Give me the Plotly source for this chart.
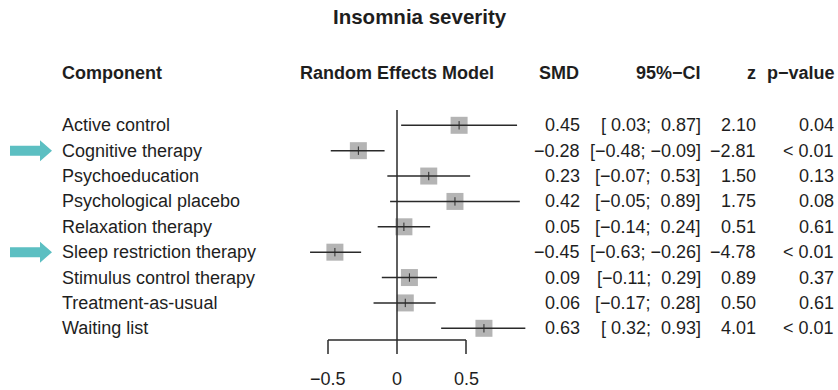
import plotly.graph_objects as go

# ---- data ----
components = ["Active control", "Cognitive therapy", "Psychoeducation",
              "Psychological placebo", "Relaxation therapy", "Sleep restriction therapy",
              "Stimulus control therapy", "Treatment-as-usual", "Waiting list"]
smd = [0.45, -0.28, 0.23, 0.42, 0.05, -0.45, 0.09, 0.06, 0.63]
ci_low = [0.03, -0.48, -0.07, -0.05, -0.14, -0.63, -0.11, -0.17, 0.32]
ci_high = [0.87, -0.09, 0.53, 0.89, 0.24, -0.26, 0.29, 0.28, 0.93]
z_vals = [2.10, -2.81, 1.50, 1.75, 0.51, -4.78, 0.89, 0.50, 4.01]
p_text = ["0.04", "< 0.01", "0.13", "0.08", "0.61", "< 0.01", "0.37", "0.61", "< 0.01"]
highlighted = ["Cognitive therapy", "Sleep restriction therapy"]
tick_vals = [-0.5, 0, 0.5]
tick_text = ["\u22120.5", "0", "0.5"]
title = "Insomnia severity"
headers = ["Component", "Random Effects Model", "SMD", "95%\u2212CI", "z", "p\u2212value"]

# ---- geometry ----
W, H = 838, 390
X0PIX, XSCALE = 397.0, 138.0          # pixel of 0 and pixels per unit
Y0PIX, YSTEP = 125.3, 25.375          # pixel of first row and row spacing
xr = [-X0PIX / XSCALE, (W - X0PIX) / XSCALE]
yr = [(H - Y0PIX) / YSTEP, -Y0PIX / YSTEP]

def ypix(p):
    return (p - Y0PIX) / YSTEP

def px(p):
    return p / W

NB = "\u00a0"

def fmt(v):
    s = f"{v:.2f}"
    return s.replace("-", "\u2212")

def pad(v):
    return fmt(v) if v < 0 else NB + fmt(v)

def fmt_ci(lo, hi):
    return f"[{pad(lo)};{NB}{pad(hi)}]"

FONT = "Liberation Sans, Arial, sans-serif"
TXT = "#1e1e1e"
FS = 18

rows = list(range(len(components)))

fig = go.Figure()

# squares
fig.add_trace(go.Scatter(
    x=smd, y=rows, mode="markers",
    marker=dict(symbol="square", size=17, color="#b4b4b4", line=dict(width=0)),
    hoverinfo="skip", showlegend=False))

# CI lines
lx, ly = [], []
for i, (lo, hi) in enumerate(zip(ci_low, ci_high)):
    lx += [lo, hi, None]
    ly += [i, i, None]
fig.add_trace(go.Scatter(x=lx, y=ly, mode="lines",
                         line=dict(color="#2a2a2a", width=1.5),
                         hoverinfo="skip", showlegend=False))

# tiny estimate ticks
fig.add_trace(go.Scatter(
    x=smd, y=rows, mode="markers",
    marker=dict(symbol="line-ns", size=6, line=dict(color="#2a2a2a", width=1)),
    hoverinfo="skip", showlegend=False))

shapes = []
# zero reference line
shapes.append(dict(type="line", xref="x", yref="y", x0=0, x1=0,
                   y0=ypix(110), y1=ypix(340), line=dict(color="#2a2a2a", width=1.5)))
# axis line
shapes.append(dict(type="line", xref="x", yref="y", x0=tick_vals[0], x1=tick_vals[-1],
                   y0=ypix(340), y1=ypix(340), line=dict(color="#2a2a2a", width=1.5)))
for t in tick_vals:
    shapes.append(dict(type="line", xref="x", yref="y", x0=t, x1=t,
                       y0=ypix(340), y1=ypix(354), line=dict(color="#2a2a2a", width=1.5)))

# arrows
for name in highlighted:
    i = components.index(name)
    yc = i
    hb = 5 / YSTEP
    hh = 10.5 / YSTEP
    path = (f"M {px(10)},{yc - hb} L {px(40)},{yc - hb} L {px(40)},{yc - hh} "
            f"L {px(52)},{yc} L {px(40)},{yc + hh} L {px(40)},{yc + hb} "
            f"L {px(10)},{yc + hb} Z")
    shapes.append(dict(type="path", xref="paper", yref="y", path=path,
                       fillcolor="#5cbfc2", line=dict(width=0)))

ann = []
def A(text, x, y, xanchor, yref="y", bold=False, size=FS):
    ann.append(dict(text=f"<b>{text}</b>" if bold else text, x=x, y=y,
                    xref="paper", yref=yref, xanchor=xanchor, yanchor="middle",
                    showarrow=False, font=dict(family=FONT, size=size, color=TXT)))

# title and headers
A(title, px(420), 1 - 17 / H, "center", yref="paper", bold=True, size=20.5)
hy = 1 - 73 / H
A(headers[0], px(60), hy, "left", yref="paper", bold=True)
A(headers[1], px(397), hy, "center", yref="paper", bold=True)
A(headers[2], px(581), hy, "right", yref="paper", bold=True)
A(headers[3], px(703), hy, "right", yref="paper", bold=True)
A(headers[4], px(758), hy, "right", yref="paper", bold=True)
A(headers[5], px(837), hy, "right", yref="paper", bold=True)

for i in rows:
    A(components[i], px(60), i, "left")
    A(fmt(smd[i]), px(582), i, "right")
    A(fmt_ci(ci_low[i], ci_high[i]), px(703), i, "right")
    A(fmt(z_vals[i]), px(758), i, "right")
    A(p_text[i], px(836), i, "right")

# tick labels
for t, lab in zip(tick_vals, tick_text):
    ann.append(dict(text=lab, x=t, y=ypix(379), xref="x", yref="y",
                    xanchor="center", yanchor="middle", showarrow=False,
                    font=dict(family=FONT, size=FS, color=TXT)))

fig.update_layout(
    width=W, height=H, margin=dict(l=0, r=0, t=0, b=0),
    paper_bgcolor="white", plot_bgcolor="white",
    xaxis=dict(range=xr, visible=False, fixedrange=True),
    yaxis=dict(range=yr, visible=False, fixedrange=True),
    shapes=shapes, annotations=ann, showlegend=False)

fig.write_html("out.html")
